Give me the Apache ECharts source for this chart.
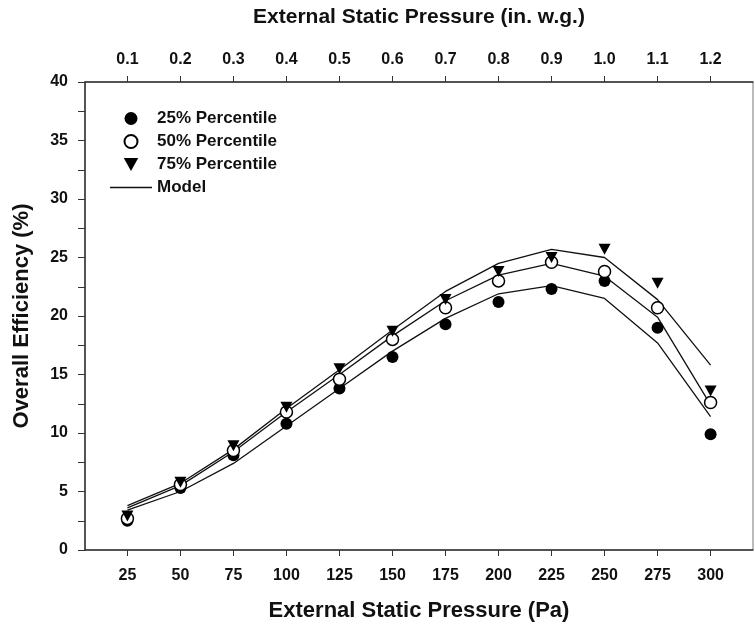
<!DOCTYPE html>
<html>
<head>
<meta charset="utf-8">
<script src="https://cdn.jsdelivr.net/npm/echarts@6/dist/echarts.min.js"></script>
<style>
  html, body { margin: 0; padding: 0; background: #fff; }
  #chart { width: 755px; height: 630px; }
</style>
</head>
<body>
<div id="chart"></div>
<script>
var pressurePa = [25, 50, 75, 100, 125, 150, 175, 200, 225, 250, 275, 300];
var pressureInWg = [0.1, 0.2, 0.3, 0.4, 0.5, 0.6, 0.7, 0.8, 0.9, 1.0, 1.1, 1.2];

// measured points (%)
var pct25 = [2.5, 5.3, 8.1, 10.8, 13.8, 16.5, 19.3, 21.2, 22.3, 23.0, 19.0, 9.9];
var pct50 = [2.7, 5.6, 8.5, 11.8, 14.6, 18.0, 20.7, 23.0, 24.6, 23.8, 20.7, 12.6];
var pct75 = [2.9, 5.8, 8.9, 12.2, 15.5, 18.7, 21.4, 23.8, 25.0, 25.7, 22.8, 13.6];

// model curves (%)
var modelLow = [3.4, 5.0, 7.4, 10.6, 13.8, 17.0, 19.8, 21.9, 22.6, 21.5, 17.7, 11.4];
var modelMid = [3.6, 5.5, 8.4, 11.8, 15.0, 18.3, 21.3, 23.5, 24.5, 23.4, 19.9, 12.4];
var modelHigh = [3.8, 5.7, 8.6, 12.1, 15.4, 18.8, 22.1, 24.5, 25.7, 25.0, 21.4, 15.8];

function pairs(ys) {
    return pressurePa.map(function (x, i) { return [x, ys[i]]; });
}

var downTriangle = 'path://M0,0 L10,0 L5,9 Z';
var lineIcon = 'path://M0,0 L42,0 L42,1.4 L0,1.4 Z';
var font = 'Arial, "Liberation Sans", sans-serif';
var ink = '#111';

var chart = echarts.init(document.getElementById('chart'));
var option = {
    animation: false,
    grid: {
        left: 85, right: 2, top: 82, bottom: 80,
        show: true, borderColor: '#777', borderWidth: 1
    },
    legend: {
        left: 105, top: 105,
        orient: 'vertical',
        itemWidth: 42, itemHeight: 13, itemGap: 6,
        textStyle: { fontFamily: font, fontSize: 17, fontWeight: 'bold', color: ink },
        data: [
            '25% Percentile',
            '50% Percentile',
            '75% Percentile',
            { name: 'Model', icon: lineIcon }
        ]
    },
    xAxis: [
        {
            type: 'value', position: 'bottom',
            min: 5, max: 320,
            name: 'External Static Pressure (Pa)',
            nameLocation: 'middle', nameGap: 50,
            nameTextStyle: { fontFamily: font, fontSize: 22, fontWeight: 'bold', color: ink },
            axisLine: { lineStyle: { color: '#333', width: 1.5 } },
            axisTick: { show: true, length: 6, lineStyle: { color: '#333' }, customValues: pressurePa },
            axisLabel: { fontFamily: font, fontSize: 16, fontWeight: 'bold', color: ink, margin: 18, customValues: pressurePa },
            splitLine: { show: false }
        },
        {
            type: 'value', position: 'top',
            min: 0.02, max: 1.28,
            name: 'External Static Pressure (in. w.g.)',
            nameLocation: 'middle', nameGap: 54,
            nameTextStyle: { fontFamily: font, fontSize: 21, fontWeight: 'bold', color: ink },
            axisLine: { lineStyle: { color: '#333', width: 1.5 } },
            axisTick: { show: true, length: 6, lineStyle: { color: '#333' }, customValues: pressureInWg },
            axisLabel: {
                fontFamily: font, fontSize: 16, fontWeight: 'bold', color: ink, margin: 14,
                customValues: pressureInWg,
                formatter: function (v) { return v.toFixed(1); }
            },
            splitLine: { show: false }
        }
    ],
    yAxis: {
        type: 'value', min: 0, max: 40, interval: 5,
        name: 'Overall Efficiency (%)',
        nameLocation: 'middle', nameGap: 52,
        nameTextStyle: { fontFamily: font, fontSize: 22, fontWeight: 'bold', color: ink },
        axisLine: { show: true, lineStyle: { color: '#333', width: 1.5 } },
        axisTick: { show: true, length: 7, lineStyle: { color: '#333' } },
        minorTick: { show: true, splitNumber: 2, length: 7, lineStyle: { color: '#333' } },
        axisLabel: { fontFamily: font, fontSize: 16, fontWeight: 'bold', color: ink, margin: 17 },
        splitLine: { show: false }
    },
    series: [
        {
            name: 'Model', type: 'line', data: pairs(modelLow),
            symbol: 'none', lineStyle: { color: ink, width: 1.3 }, itemStyle: { color: ink }
        },
        {
            name: 'Model', type: 'line', data: pairs(modelMid),
            symbol: 'none', lineStyle: { color: ink, width: 1.3 }, itemStyle: { color: ink }
        },
        {
            name: 'Model', type: 'line', data: pairs(modelHigh),
            symbol: 'none', lineStyle: { color: ink, width: 1.3 }, itemStyle: { color: ink }
        },
        {
            name: '25% Percentile', type: 'scatter', data: pairs(pct25),
            symbol: 'circle', symbolSize: 12, itemStyle: { color: '#000', opacity: 1 }, z: 5
        },
        {
            name: '50% Percentile', type: 'scatter', data: pairs(pct50),
            symbol: 'circle', symbolSize: 12,
            itemStyle: { color: '#fff', borderColor: '#000', borderWidth: 1.5, opacity: 1 }, z: 6
        },
        {
            name: '75% Percentile', type: 'scatter', data: pairs(pct75),
            symbol: downTriangle, symbolSize: [12, 11], itemStyle: { color: '#000', opacity: 1 }, z: 7
        }
    ]
};
chart.setOption(option);
</script>
</body>
</html>
